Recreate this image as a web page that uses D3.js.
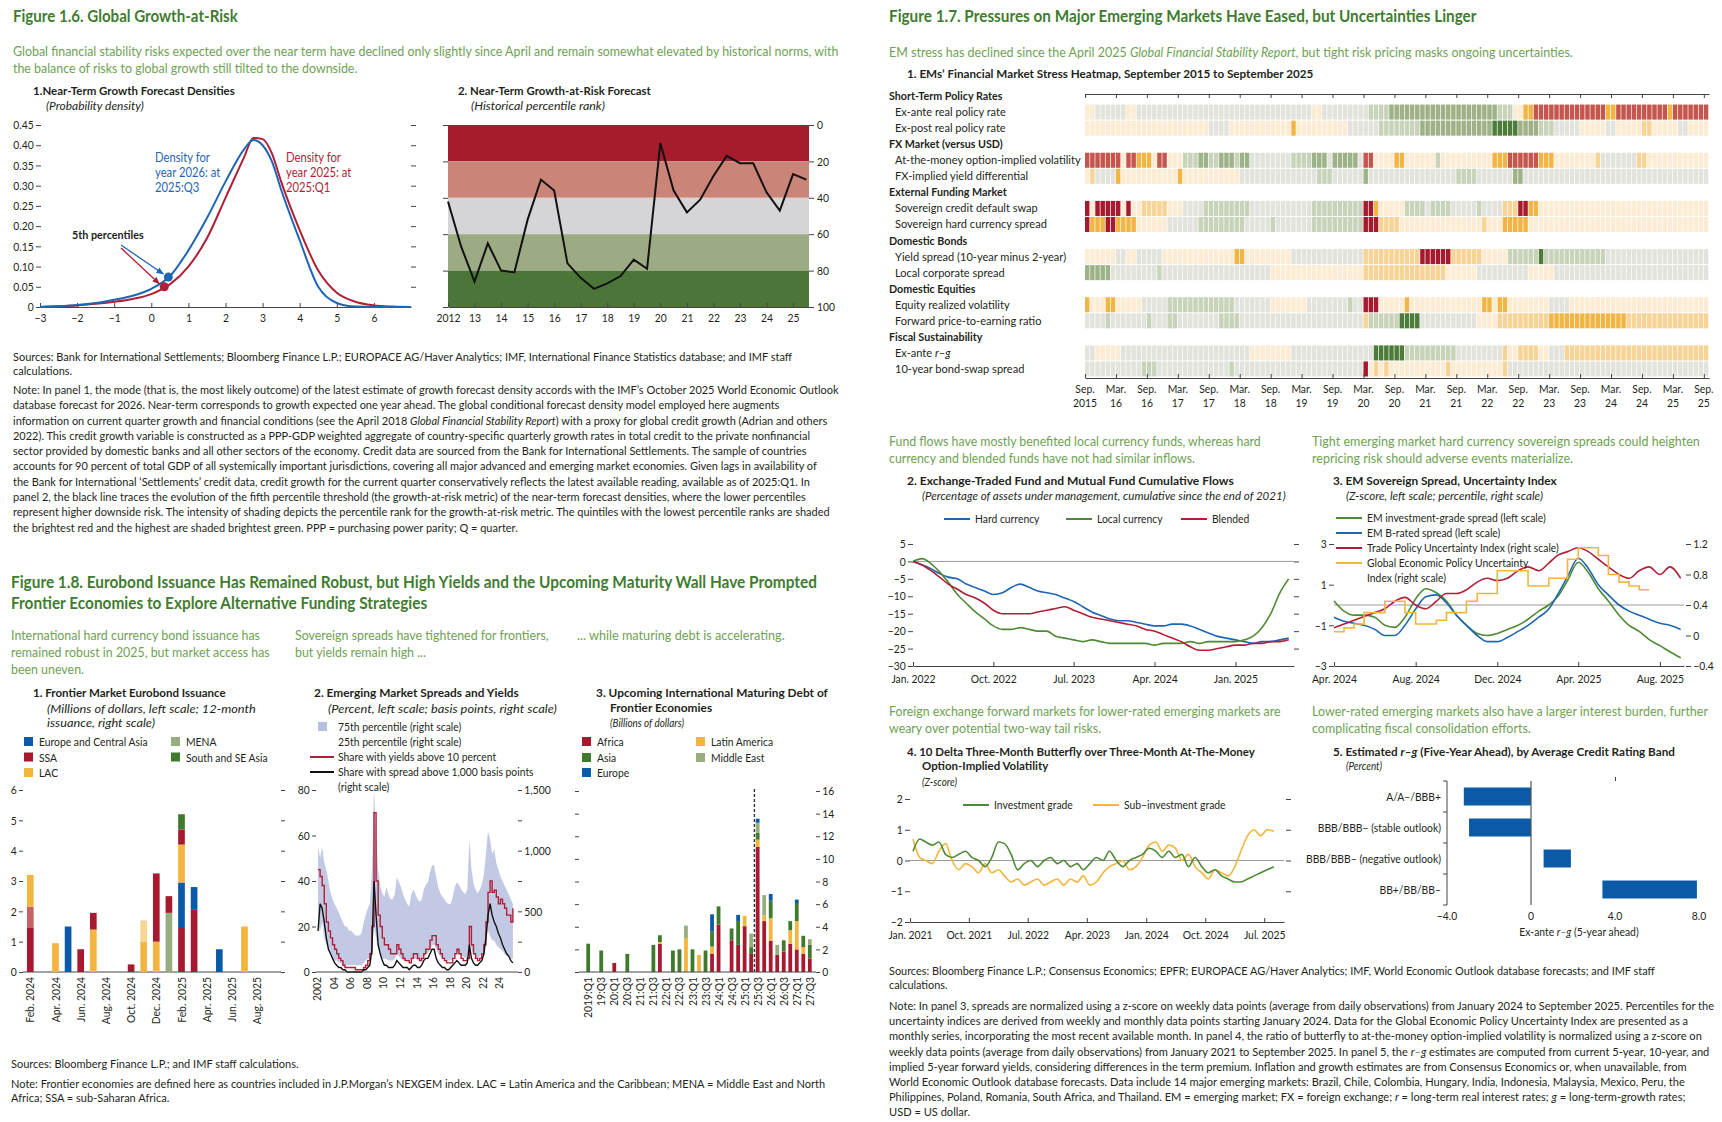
<!DOCTYPE html>
<html>
<head>
<meta charset="utf-8">
<script src="https://cdn.jsdelivr.net/npm/d3@7"></script>
<style>
  body { margin: 0; background: #fff; }
  svg { font-family: Lato, "Noto Sans", sans-serif; display: block; }
</style>
</head>
<body>
<script>
// ---------------- Figure 1.6 data ----------------
const densX    = [-3,-2.5,-2,-1.5,-1,-0.5,0,0.5,1,1.5,2,2.5,2.75,3,3.25,3.5,4,4.5,5,5.5,6,6.5,7];
const dens2026 = [0,0.002,0.005,0.01,0.018,0.028,0.045,0.076,0.14,0.22,0.31,0.39,0.413,0.4,0.36,0.29,0.165,0.05,0.01,0.001,0,0,0];
const dens2025 = [0,0.002,0.004,0.008,0.013,0.02,0.032,0.056,0.1,0.17,0.27,0.37,0.418,0.415,0.38,0.31,0.19,0.09,0.035,0.013,0.004,0.001,0];
const pct5X = [0.46, 0.35];        // 2026, 2025
const pct5Y = [0.074, 0.05];
const densTicks = [0,0.05,0.1,0.15,0.2,0.25,0.3,0.35,0.4,0.45];
const densXTicks = [-3,-2,-1,0,1,2,3,4,5,6];

const garYears = [2012,2012.5,2013,2013.5,2014,2014.5,2015,2015.5,2016,2016.5,2017,2017.5,2018,2018.5,2019,2019.5,2020,2020.5,2021,2021.5,2022,2022.5,2023,2023.5,2024,2024.5,2025,2025.5];
const garRank  = [42,67,86,65,80,81,52,30,36,76,84,90,87,83,74,79,10,36,48,41,28,17,21,21,37,47,27,30];
const garBands = [0,20,40,60,80,100];
const garTicks = [2012,2013,2014,2015,2016,2017,2018,2019,2020,2021,2022,2023,2024,2025];

// ---------------- Figure 1.7 data ----------------
const hmGroups = ["Short-Term Policy Rates","FX Market (versus USD)","External Funding Market","Domestic Bonds","Domestic Equities","Fiscal Sustainability"];
const hmItems = ["Ex-ante real policy rate","Ex-post real policy rate","At-the-money option-implied volatility","FX-implied yield differential",
  "Sovereign credit default swap","Sovereign hard currency spread","Yield spread (10-year minus 2-year)","Local corporate spread",
  "Equity realized volatility","Forward price-to-earning ratio","Ex-ante *r*–*g*","10-year bond-swap spread"];
// stress level runs [level, months], Sep 2015 onward; 0 = most stress (dark red) ... 8 = least (dark green)
const runExAnte = [[4,2],[5,6],[4,2],[5,34],[4,2],[5,9],[6,4],[7,21],[6,3],[4,2],[2,2],[1,14],[2,2],[1,10],[2,1],[1,7]];
const runExPost = [[4,24],[5,4],[4,12],[2,1],[4,10],[5,6],[6,8],[7,14],[8,5],[7,4],[6,3],[5,5],[4,5],[5,2],[4,5],[3,2],[4,5],[5,2],[4,4]];
const runAtmVol = [[1,7],[4,1],[1,2],[2,3],[4,1],[1,2],[4,3],[6,3],[7,2],[6,2],[7,3],[6,1],[7,2],[5,8],[6,4],[7,3],[5,1],[7,5],[5,1],[1,2],[4,4],[2,2],[4,6],[6,1],[4,10],[2,3],[1,6],[2,3],[4,8],[3,1],[5,7],[3,2],[4,12]];
const runFxDiff = [[4,1],[3,1],[5,4],[2,1],[4,11],[2,1],[4,11],[5,10],[5,5],[6,3],[5,6],[7,1],[5,17],[6,4],[5,7],[7,2],[5,36]];
const runCds    = [[0,1],[4,1],[0,5],[4,1],[0,1],[4,2],[3,5],[4,3],[5,4],[6,9],[5,12],[6,10],[0,2],[2,1],[4,5],[6,4],[5,1],[6,4],[5,5],[6,1],[5,4],[3,3],[0,2],[2,2],[4,33]];
const runHardSp = [[0,1],[2,3],[0,2],[2,4],[4,6],[5,6],[6,9],[5,5],[6,1],[5,7],[6,10],[0,3],[3,4],[4,16],[3,1],[4,3],[2,5],[4,35]];
const runYield  = [[4,6],[5,2],[4,2],[5,5],[4,14],[2,2],[4,9],[5,14],[3,11],[0,6],[3,6],[4,5],[6,6],[8,1],[6,12],[5,20]];
const runLocCorp= [[7,5],[5,9],[6,1],[5,21],[4,18],[3,16],[4,6],[5,10],[4,5],[5,30]];
const runEqVol  = [[2,1],[4,3],[2,2],[4,5],[5,5],[6,13],[5,7],[4,7],[5,8],[6,1],[5,2],[0,3],[4,5],[2,1],[4,14],[2,2],[4,1],[2,2],[4,8],[5,4],[4,27]];
const runFwdPE  = [[5,4],[6,1],[5,7],[6,1],[5,3],[6,2],[5,8],[6,4],[5,24],[3,1],[6,6],[8,4],[5,11],[4,4],[3,10],[2,15],[3,16]];
const runRg     = [[5,2],[4,5],[5,25],[4,8],[5,16],[8,6],[6,10],[5,9],[3,1],[4,2],[3,4],[4,2],[5,3],[3,28]];
const runBondSw = [[5,11],[6,3],[5,14],[6,1],[5,25],[0,1],[4,1],[3,1],[4,1],[3,1],[4,11],[3,1],[4,10],[3,1],[5,39]];
const hmColors = ["#a6192e","#c4564d","#f1b545","#f7d496","#fcecd3","#e3e3dd","#c9d3ba","#9db287","#4c7c37"];

const fundHard    = [0,-1,-2,-3.5,-4.5,-5,-6.5,-7.5,-8.5,-9.5,-9,-7.5,-6.5,-7.5,-8.5,-9,-9.5,-10.5,-11.5,-13,-14.5,-15.5,-16.5,-17,-17,-17.5,-18,-18.5,-18.5,-18,-18,-18.5,-19.5,-20.5,-21.5,-22,-22.5,-23,-23.5,-23,-23,-22.5,-22];
const fundLocal   = [0,0.8,-0.5,-3,-6,-9.5,-12,-14.5,-16.5,-18.5,-19.5,-19.5,-19,-19.5,-20,-20,-21.5,-22,-22.5,-23,-22.5,-23,-23.5,-23.5,-23.5,-23.5,-23.5,-24,-23.5,-23.5,-23.5,-23,-23.5,-23,-23,-23,-23,-22.5,-21.5,-19,-15,-9,-5];
const fundBlended = [0,-1,-2.5,-4.5,-6.5,-8,-9.5,-10.5,-12,-14,-15,-15,-15,-15,-14.5,-14,-13.5,-13,-14,-15,-16,-16.5,-17,-17.5,-18,-18.5,-19.5,-20,-21,-22,-23,-24.5,-25.5,-25.5,-25,-24.5,-24,-24,-23.5,-23.5,-23,-23,-22.5];
const fundTicks = [[2022,1],[2022,10],[2023,7],[2024,4],[2025,1]];

// half-monthly from Apr. 2024
const emIG = [0.2,-0.3,-0.5,-0.5,-0.6,-1.0,-1.1,-0.6,0.3,0.8,0.6,0.2,-0.5,-1.0,-1.4,-1.5,-1.4,-1.2,-1.0,-0.7,-0.3,0.0,0.4,1.2,2.1,1.6,0.8,0.2,-0.5,-1.0,-1.3,-1.7,-2.0,-2.3,-2.6];
const emB  = [-0.6,-0.8,-0.9,-1.0,-1.2,-1.5,-1.5,-1.0,-0.2,0.4,0.5,0.1,-0.5,-1.0,-1.5,-1.8,-1.8,-1.6,-1.3,-1.0,-0.6,-0.2,0.5,1.4,2.3,1.8,1.0,0.5,0.0,-0.3,-0.5,-0.7,-0.9,-1.0,-1.2];
const tpu  = [0.1,0.15,0.2,0.25,0.3,0.35,0.45,0.5,0.4,0.35,0.45,0.55,0.55,0.6,0.7,0.75,0.72,0.75,0.85,0.9,0.85,0.95,1.05,1.1,1.15,1.1,1.0,0.9,0.8,0.75,0.85,0.9,0.8,0.9,0.75];
const gepu = [0.05,0.1,0.15,0.3,0.3,0.45,0.45,0.3,0.15,0.15,0.2,0.3,0.3,0.45,0.55,0.55,0.85,0.85,0.85,0.65,0.65,0.75,0.75,1.0,1.15,1.15,1.05,0.8,0.7,0.65,0.6,0.6];
const emLeftTicks = [3,1,-1,-3];
const emRightTicks = [1.2,0.8,0.4,0,-0.4];
const emTicks = [[2024,4],[2024,8],[2024,12],[2025,4],[2025,8]];

// monthly from Jan. 2021
const bflyIG  = [0.3,0.7,0.6,0.5,0.6,0.2,0.1,0.2,0.3,0.1,0.0,-0.2, 0.1,0.6,0.55,0.2,-0.3,-0.1,0.0,-0.2,0.0,0.1,-0.1,0.0,
                 -0.2,-0.1,-0.3,-0.1,0.1,0.0,0.3,0.0,-0.2,0.0,0.1,0.2, 0.4,0.3,0.1,0.3,0.1,0.2,-0.2,0.1,-0.2,-0.4,-0.3,-0.5,
                 -0.6,-0.7,-0.7,-0.6,-0.5,-0.4,-0.3,-0.2];
const bflySub = [0.7,0.1,0.0,-0.1,0.3,0.55,0.0,-0.3,-0.1,-0.2,-0.4,-0.1, -0.4,-0.3,-0.5,-0.7,-0.6,-0.8,-0.7,-0.6,-0.8,-0.7,-0.6,-0.8,
                 -0.6,-0.7,-0.5,-0.8,-0.7,-0.4,-0.2,-0.1,0.0,-0.3,-0.2,0.1, 0.5,0.6,0.3,0.5,0.4,0.0,0.2,-0.2,-0.4,-0.6,-0.3,-0.4,
                 -0.5,-0.2,0.3,0.8,1.0,0.8,1.0,0.95];
const bflyTicks = [[2021,1],[2021,10],[2022,7],[2023,4],[2024,1],[2024,10],[2025,7]];

const rgBands = ["A/A–/BBB+","BBB/BBB– (stable outlook)","BBB/BBB– (negative outlook)","BB+/BB/BB–"];
const rgLow  = [-3.2,-2.95,0.6,3.4];
const rgHigh = [0,0,1.9,7.9];
const rgTicks = [-4,0,4,8];

// ---------------- Figure 1.8 data ----------------
const eboMonths = ["Feb. 2024","Mar. 2024","Apr. 2024","May 2024","Jun. 2024","Jul. 2024","Aug. 2024","Sep. 2024","Oct. 2024","Nov. 2024",
  "Dec. 2024","Jan. 2025","Feb. 2025","Mar. 2025","Apr. 2025","May 2025","Jun. 2025","Jul. 2025","Aug. 2025","Sep. 2025"];
// [month index, region, billions]
const eboIssues = [[0,"SSA",1.45],[0,"SSA*",0.7],[0,"LAC",1.05],[2,"LAC",0.95],[3,"ECA",1.5],[4,"SSA",0.75],[5,"LAC",1.4],[5,"SSA",0.55],
  [8,"SSA",0.25],[9,"LAC",1.0],[9,"LAC*",0.7],[10,"LAC",1.0],[10,"SSA",2.25],[11,"MENA",1.95],[11,"SSA",0.55],
  [12,"SSA",1.45],[12,"ECA",1.5],[12,"LAC",1.25],[12,"SSA",0.5],[12,"SSEA",0.5],[13,"SSA",2.05],[13,"ECA",0.75],[15,"ECA",0.75],[17,"LAC",1.5]];
const eboRegions = ["ECA","SSA","LAC","MENA","SSEA"];
const eboNames = ["Europe and Central Asia","SSA","LAC","MENA","South and SE Asia"];
const eboTicks = [0,1,2,3,4,5,6];

// quarterly 2002:Q1 - 2025:Q3
const spP75 = [1030,940,1030,900, 845,750,655,600, 560,525,490,450, 410,375,375,340, 340,320,300,300, 300,320,410,470,
  525,560,845,1500, 1125,845,710,650, 620,700,640,600, 600,640,780,740, 700,640,600,560, 540,640,680,640, 600,580,600,680,
  720,740,820,880, 880,780,700,650, 620,600,570,560, 560,620,700,740, 720,680,660,640, 680,1090,850,730, 680,650,680,720,
  800,975,1160,1090, 975,1010,900,845, 790,750,710,675, 640,600,560];
const spP25 = [375,340,410,280, 225,190,150,110, 95,95,75,75, 55,55,55,55, 55,55,55,55, 55,55,75,95,
  110,110,190,375, 280,190,150,110, 110,110,95,95, 95,110,150,130, 110,95,95,95, 95,110,110,110, 95,95,110,130,
  150,150,190,225, 225,190,150,130, 110,110,95,95, 95,110,150,170, 150,130,130,110, 130,280,190,150, 130,110,130,150,
  190,260,340,300, 260,260,225,205, 190,170,150,130, 130,110,110];
const shareY10 = [45,42,38,30, 22,18,15,12, 10,8,6,5, 3,2,2,2, 2,2,1,1, 1,1,2,3, 5,8,20,70, 40,25,20,15, 12,12,10,8,
  8,8,12,10, 8,6,5,5, 4,6,8,8, 6,5,6,8, 10,10,14,16, 16,12,10,8, 6,5,4,4, 4,6,8,10, 8,6,5,5, 6,20,12,8, 6,5,6,8,
  12,22,35,40, 35,36,33,30, 32,30,28,25, 25,22,28];
const shareS1000 = [18,30,28,22, 15,10,8,6, 4,3,2,2, 1,1,0,0, 0,0,0,0, 0,0,1,1, 2,3,10,40, 25,12,8,5, 3,3,2,2,
  2,3,5,4, 3,2,2,2, 1,2,3,3, 2,2,3,5, 6,6,8,10, 10,6,4,3, 2,2,1,1, 2,3,4,5, 4,3,3,3, 4,12,6,4, 3,3,4,5,
  8,15,25,30, 25,22,20,17, 15,12,10,8, 7,5,4];
const spYearTicks = [2002,2004,2006,2008,2010,2012,2014,2016,2018,2020,2022,2024];

// quarterly 2019:Q1 - 2027:Q3
const debtQuarters = ["2019:Q1","19:Q2","19:Q3","19:Q4","20:Q1","20:Q2","20:Q3","20:Q4","21:Q1","21:Q2","21:Q3","21:Q4",
  "22:Q1","22:Q2","22:Q3","22:Q4","23:Q1","23:Q2","23:Q3","23:Q4","24:Q1","24:Q2","24:Q3","24:Q4","25:Q1","25:Q2","25:Q3","25:Q4",
  "26:Q1","26:Q2","26:Q3","26:Q4","27:Q1","27:Q2","27:Q3"];
const africaDebt = [0,0,0,0,0.8,0,0,0,0,0,0,2.5,0,0,0,0,0,0,0,1.6,4.2,0,2.8,2.4,4.05,1.6,11.05,4.5,2.75,1.5,1.8,2.5,2.0,1.6,1.2];
const latamDebt  = [0,0,0,0,0,0,0,0,0,0,0,0.15,0,0,0,3.0,0,1.5,0,0.65,0,0,0,0,0.9,0,0.65,0.5,2.0,0,0,1.2,2.5,0.6,0];
const asiaDebt   = [2.5,0,1.9,0,0,0,1.6,0,0,0,2.4,0.6,0,1.9,2.0,0,2.0,0,1.9,1.35,1.6,0,1.05,2.1,0,0.6,0.6,0,1.55,0,1.0,0.8,1.6,1.0,1.2];
const meDebt     = [0,0,0,0,0,0,0,0,0,0,0,0,0,0,0,1.1,0,0,0,0,0,0,0,0,0,1.2,0.9,1.8,0,0.9,0,0,0,0,0.5];
const europeDebt = [0,0,0,0,0,0,0,0,0,0,0,0,0,0,0,0,0,0,0,1.5,0,0,0,0.55,0,0,0.35,0,0.6,0,0,0,0.3,0,0];
const debtCurrent = 26;   // 2025:Q3
const debtTicks = [0,2,4,6,8,10,12,14,16];

// ---------------- text ----------------
const fig16Sub = ["Global financial stability risks expected over the near term have declined only slightly since April and remain somewhat elevated by historical norms, with",
  "the balance of risks to global growth still tilted to the downside."];
const fig16Sources = ["Sources: Bank for International Settlements; Bloomberg Finance L.P.; EUROPACE AG/Haver Analytics; IMF, International Finance Statistics database; and IMF staff",
  "calculations."];
const fig16Note = [
  "Note: In panel 1, the mode (that is, the most likely outcome) of the latest estimate of growth forecast density accords with the IMF’s October 2025 World Economic Outlook",
  "database forecast for 2026. Near-term corresponds to growth expected one year ahead. The global conditional forecast density model employed here augments",
  "information on current quarter growth and financial conditions (see the April 2018 *Global Financial Stability Report*) with a proxy for global credit growth (Adrian and others",
  "2022). This credit growth variable is constructed as a PPP-GDP weighted aggregate of country-specific quarterly growth rates in total credit to the private nonfinancial",
  "sector provided by domestic banks and all other sectors of the economy. Credit data are sourced from the Bank for International Settlements. The sample of countries",
  "accounts for 90 percent of total GDP of all systemically important jurisdictions, covering all major advanced and emerging market economies. Given lags in availability of",
  "the Bank for International ‘Settlements’ credit data, credit growth for the current quarter conservatively reflects the latest available reading, available as of 2025:Q1. In",
  "panel 2, the black line traces the evolution of the fifth percentile threshold (the growth-at-risk metric) of the near-term forecast densities, where the lower percentiles",
  "represent higher downside risk. The intensity of shading depicts the percentile rank for the growth-at-risk metric. The quintiles with the lowest percentile ranks are shaded",
  "the brightest red and the highest are shaded brightest green. PPP = purchasing power parity; Q = quarter."];
const fig17Sources = ["Sources: Bloomberg Finance L.P.; Consensus Economics; EPFR; EUROPACE AG/Haver Analytics; IMF, World Economic Outlook database forecasts; and IMF staff",
  "calculations."];
const fig17Note = [
  "Note: In panel 3, spreads are normalized using a z-score on weekly data points (average from daily observations) from January 2024 to September 2025. Percentiles for the",
  "uncertainty indices are derived from weekly and monthly data points starting January 2024. Data for the Global Economic Policy Uncertainty Index are presented as a",
  "monthly series, incorporating the most recent available month. In panel 4, the ratio of butterfly to at-the-money option-implied volatility is normalized using a z-score on",
  "weekly data points (average from daily observations) from January 2021 to September 2025. In panel 5, the *r–g* estimates are computed from current 5-year, 10-year, and",
  "implied 5-year forward yields, considering differences in the term premium. Inflation and growth estimates are from Consensus Economics or, when unavailable, from",
  "World Economic Outlook database forecasts. Data include 14 major emerging markets: Brazil, Chile, Colombia, Hungary, India, Indonesia, Malaysia, Mexico, Peru, the",
  "Philippines, Poland, Romania, South Africa, and Thailand. EM = emerging market; FX = foreign exchange; *r* = long-term real interest rates; *g* = long-term-growth rates;",
  "USD = US dollar."];
const fig18Note = ["Note: Frontier economies are defined here as countries included in J.P.Morgan’s NEXGEM index. LAC = Latin America and the Caribbean; MENA = Middle East and North",
  "Africa; SSA = sub-Saharan Africa."];

// ---------------- setup ----------------
const W = 1722, H = 1122, SQ = 0.9;
const C = {ink:"#231f20", title:"#3f7c2f", sub:"#6ea153", red:"#b01f35", blue:"#1f66b2", green:"#4e8a34",
           yellow:"#f3b53d", sage:"#9bb07f", dgreen:"#3e7a2c", axis:"#444", zero:"#9a9a9a"};
const MON = ["Jan.","Feb.","Mar.","Apr.","May","Jun.","Jul.","Aug.","Sep.","Oct.","Nov.","Dec."];
const mfmt = d => MON[d.getMonth()] + " " + d.getFullYear();
const ym = ([y, m]) => new Date(y, m - 1, 1);
const intFmt = d3.format("d");

let svg = d3.select("body").append("svg").attr("width", W).attr("height", H);
svg.append("rect").attr("width", W).attr("height", H).attr("fill", "#fff");

function rich(t, s) {
  s.split("*").forEach((part, i) => {
    if (part) t.append("tspan").attr("font-style", i % 2 ? "italic" : null).text(part);
  });
}
function measure(s, size, bold) {
  let t = svg.append("text").attr("font-size", size).attr("font-weight", bold ? 700 : null);
  rich(t, s);
  let w = t.node().getComputedTextLength();
  t.remove();
  return w;
}
function label(x, y, s, o = {}) {
  let t = svg.append("text")
    .attr("font-size", o.size || 11.5)
    .attr("font-weight", o.bold ? 700 : null)
    .attr("font-style", o.italic ? "italic" : null)
    .attr("fill", o.fill || C.ink)
    .attr("text-anchor", o.anchor || null);
  rich(t, s);
  let k = o.sx || SQ;
  if (o.w) k = o.w / t.node().getComputedTextLength();
  t.attr("transform", `translate(${x},${y}) scale(${k},1)`);
  return k;
}
function block(x, y, lines, lh, o = {}) {
  let g = svg.append("g");
  let ts = lines.map((s, i) => {
    let t = g.append("text").attr("y", i * lh).attr("font-size", o.size || 11)
      .attr("font-weight", o.bold ? 700 : null).attr("font-style", o.italic ? "italic" : null)
      .attr("fill", o.fill || C.ink);
    rich(t, s);
    return t;
  });
  let k = o.sx || SQ;
  if (o.w) k = o.w / d3.max(ts, t => t.node().getComputedTextLength());
  g.attr("transform", `translate(${x},${y}) scale(${k},1)`);
  return k;
}
function vlabel(x, y, s) {
  svg.append("text").attr("font-size", 11.5).attr("fill", C.ink).attr("text-anchor", "end").attr("dy", "0.35em")
    .attr("transform", `translate(${x},${y}) rotate(-90) scale(${SQ},1)`).text(s);
}
function ax(g, o = {}) {
  g.attr("font-family", null).attr("font-size", o.size || 11.5);
  g.selectAll(".tick text").attr("fill", C.ink).attr("transform", `scale(${SQ},1)`);
  g.selectAll(".tick line").attr("stroke", C.axis);
  if (o.keepDomain) g.select(".domain").attr("stroke", C.axis);
  else g.select(".domain").remove();
  return g;
}
function hline(x1, x2, y, col, sw) {
  svg.append("line").attr("x1", x1).attr("x2", x2).attr("y1", y).attr("y2", y).attr("stroke", col).attr("stroke-width", sw || 1);
}
function legLine(x, y, col, txt) {
  svg.append("line").attr("x1", x).attr("x2", x + 26).attr("y1", y - 4).attr("y2", y - 4).attr("stroke", col).attr("stroke-width", 2);
  label(x + 31, y, txt);
}
function legBox(x, y, col, txt) {
  svg.append("rect").attr("x", x).attr("y", y - 9).attr("width", 9).attr("height", 9).attr("fill", col);
  label(x + 15, y, txt);
}

// ============== Figure 1.6 ==============
label(13, 22, "Figure 1.6. Global Growth-at-Risk", {size: 16.5, bold: true, fill: C.title, w: 225});
block(13, 56, fig16Sub, 17, {size: 13.5, fill: C.sub, w: 826});
label(33, 95, "1.Near-Term Growth Forecast Densities", {size: 12, bold: true, w: 202});
label(46, 110, "(Probability density)", {size: 11, italic: true, w: 98});
label(458, 95, "2. Near-Term Growth-at-Risk Forecast", {size: 12, bold: true, w: 193});
label(471, 110, "(Historical percentile rank)", {size: 11, italic: true, w: 134});

// panel 1
let x16a = d3.scaleLinear().domain([-3, 7]).range([40, 411]);
let y16a = d3.scaleLinear().domain([0, 0.45]).range([307, 125]);
ax(svg.append("g").attr("transform", "translate(41,0)")
  .call(d3.axisLeft(y16a).tickValues(densTicks).tickSize(5).tickPadding(3).tickFormat(v => v === 0 ? "0" : d3.format(".2f")(v))));
ax(svg.append("g").attr("transform", "translate(411,0)")
  .call(d3.axisRight(y16a).tickValues(densTicks.slice(1)).tickSize(5).tickFormat("")));
ax(svg.append("g").attr("transform", "translate(0,307)")
  .call(d3.axisBottom(x16a).tickValues(densXTicks).tickSizeInner(-4).tickSizeOuter(0).tickPadding(7).tickFormat(intFmt)), {keepDomain: true});

let densLine = d3.line().x((d, i) => x16a(densX[i])).y(d => y16a(d)).curve(d3.curveMonotoneX);
svg.append("path").attr("d", densLine(dens2025)).attr("fill", "none").attr("stroke", C.red).attr("stroke-width", 2);
svg.append("path").attr("d", densLine(dens2026)).attr("fill", "none").attr("stroke", C.blue).attr("stroke-width", 2);

let defs = svg.append("defs");
[["arB", C.blue], ["arR", C.red]].forEach(([id, col]) => {
  defs.append("marker").attr("id", id).attr("viewBox", "0 0 10 10").attr("refX", 9).attr("refY", 5)
    .attr("markerWidth", 6).attr("markerHeight", 6).attr("orient", "auto")
    .append("path").attr("d", "M0,1 L10,5 L0,9 z").attr("fill", col);
});
[[C.blue, "arB"], [C.red, "arR"]].forEach(([col, mk], i) => {
  let px = x16a(pct5X[i]), py = y16a(pct5Y[i]);
  svg.append("line").attr("x1", 121).attr("y1", 245 + i * 3).attr("x2", px - 5).attr("y2", py - 3)
    .attr("stroke", col).attr("stroke-width", 1.3).attr("marker-end", `url(#${mk})`);
});
[C.blue, C.red].forEach((col, i) => {
  svg.append("circle").attr("cx", x16a(pct5X[i])).attr("cy", y16a(pct5Y[i])).attr("r", 4.5).attr("fill", col);
});
label(72, 239, "5th percentiles", {size: 12, bold: true});
block(155, 162, ["Density for", "year 2026: at", "2025:Q3"], 15, {size: 12.5, fill: C.blue});
block(286, 162, ["Density for", "year 2025: at", "2025:Q1"], 15, {size: 12.5, fill: C.red});

// panel 2
let x16b = d3.scaleLinear().domain([2012, 2025.6]).range([448, 809]);
let y16b = d3.scaleLinear().domain([0, 100]).range([125, 307]);
const garColors = ["#a61c2d", "#cb8478", "#d5d5d7", "#9dab84", "#4b7637"];
svg.append("g").selectAll("rect").data(garBands.slice(0, -1)).join("rect")
  .attr("x", x16b(2012)).attr("width", x16b(2025.6) - x16b(2012))
  .attr("y", d => y16b(d)).attr("height", (d, i) => y16b(garBands[i + 1]) - y16b(d))
  .attr("fill", (d, i) => garColors[i]);
svg.append("path").datum(garRank)
  .attr("d", d3.line().x((d, i) => x16b(garYears[i])).y(d => y16b(d)))
  .attr("fill", "none").attr("stroke", "#111").attr("stroke-width", 2);
ax(svg.append("g").attr("transform", "translate(809,0)")
  .call(d3.axisRight(y16b).tickValues(garBands).tickSize(5).tickPadding(4)));
ax(svg.append("g").attr("transform", "translate(448,0)")
  .call(d3.axisLeft(y16b).tickValues(garBands).tickSize(5).tickFormat("")));
ax(svg.append("g").attr("transform", "translate(0,307)")
  .call(d3.axisBottom(x16b).tickValues(garTicks).tickSizeInner(-4).tickSizeOuter(0).tickPadding(7)
    .tickFormat(v => v === 2012 ? "2012" : String(v).slice(2))), {keepDomain: true});

block(13, 361, fig16Sources, 14.5, {size: 11, w: 780});
block(13, 394, fig16Note, 15.3, {size: 11, w: 826});

// ============== Figure 1.7 ==============
label(889, 22, "Figure 1.7. Pressures on Major Emerging Markets Have Eased, but Uncertainties Linger", {size: 16.5, bold: true, fill: C.title, w: 588});
label(889, 57, "EM stress has declined since the April 2025 *Global Financial Stability Report*, but tight risk pricing masks ongoing uncertainties.", {size: 13.5, fill: C.sub, w: 684});
label(907, 78, "1. EMs’ Financial Market Stress Heatmap, September 2015 to September 2025", {size: 12, bold: true, w: 407});

// panel 1 heatmap
let hmX = d3.scaleLinear().domain([0, 121]).range([1085, 1709]);
let hmY = d3.scaleBand().domain(d3.range(18)).range([88, 377]);
const hmSeries = [runExAnte, runExPost, runAtmVol, runFxDiff, runCds, runHardSp, runYield, runLocCorp, runEqVol, runFwdPE, runRg, runBondSw];
hmSeries.forEach((runs, r) => {
  let slot = Math.floor(r / 2) * 3 + 1 + r % 2;
  let cells = [];
  runs.forEach(([lvl, n]) => { for (let i = 0; i < n; i++) cells.push(lvl); });
  svg.append("g").selectAll("rect").data(cells).join("rect")
    .attr("x", (d, i) => hmX(i))
    .attr("width", hmX(1) - hmX(0) - 0.7)
    .attr("y", hmY(slot) + 0.5)
    .attr("height", hmY.bandwidth() - 1)
    .attr("fill", d => hmColors[d]);
});
let hmK = 186 / measure(hmItems[2], 12);
hmGroups.forEach((g, i) => label(889, hmY(i * 3) + hmY.bandwidth() / 2 + 4, g, {size: 12, bold: true, sx: hmK * 0.97}));
hmItems.forEach((s, r) => {
  let slot = Math.floor(r / 2) * 3 + 1 + r % 2;
  label(895, hmY(slot) + hmY.bandwidth() / 2 + 4, s, {size: 12, sx: hmK});
});
const hmTickIdx = d3.range(0, 121, 6);
ax(svg.append("g").attr("transform", "translate(0,94)")
  .call(d3.axisTop(hmX).tickValues(hmTickIdx).tickSizeInner(-4).tickSizeOuter(0).tickFormat("")), {keepDomain: true});
ax(svg.append("g").attr("transform", "translate(0,378)")
  .call(d3.axisBottom(hmX).tickValues(hmTickIdx).tickSizeInner(-4).tickSizeOuter(0).tickFormat("")), {keepDomain: true});
hmTickIdx.forEach((m, i) => {
  let d = new Date(2015, 8 + m, 1);
  label(hmX(m), 393, MON[d.getMonth()], {anchor: "middle"});
  label(hmX(m), 407, i === 0 ? String(d.getFullYear()) : String(d.getFullYear()).slice(2), {anchor: "middle"});
});

// panel 2 fund flows
block(889, 446, ["Fund flows have mostly benefited local currency funds, whereas hard", "currency and blended funds have not had similar inflows."], 17.5, {size: 13.5, fill: C.sub, w: 372});
label(907, 485, "2. Exchange-Traded Fund and Mutual Fund Cumulative Flows", {size: 12, bold: true, w: 327});
label(922, 500, "(Percentage of assets under management, cumulative since the end of 2021)", {size: 11, italic: true, w: 364});
legLine(944, 523, C.blue, "Hard currency");
legLine(1066, 523, C.green, "Local currency");
legLine(1181, 523, C.red, "Blended");
let xF = d3.scaleTime().domain([new Date(2022, 0, 1), new Date(2025, 6, 19)]).range([913, 1294]);
let yF = d3.scaleLinear().domain([-30, 5]).range([666, 544]);
hline(913, 1294, yF(0), C.zero);
ax(svg.append("g").attr("transform", "translate(913,0)")
  .call(d3.axisLeft(yF).tickValues([5,0,-5,-10,-15,-20,-25,-30]).tickSize(5).tickPadding(3).tickFormat(intFmt)));
ax(svg.append("g").attr("transform", "translate(1294,0)")
  .call(d3.axisRight(yF).tickValues([5,0,-5,-10,-15,-20,-25]).tickSize(5).tickFormat("")));
ax(svg.append("g").attr("transform", `translate(0,${yF(-30)})`)
  .call(d3.axisBottom(xF).tickValues(fundTicks.map(ym)).tickSizeInner(-4).tickSizeOuter(0).tickPadding(9).tickFormat(mfmt)), {keepDomain: true});
let fLine = d3.line().x((d, i) => xF(new Date(2022, i, 1))).y(d => yF(d)).curve(d3.curveMonotoneX);
[[fundHard, C.blue], [fundLocal, C.green], [fundBlended, C.red]].forEach(([s, col]) => {
  svg.append("path").attr("d", fLine(s)).attr("fill", "none").attr("stroke", col).attr("stroke-width", 1.6);
});

// panel 3 EM spreads
block(1312, 446, ["Tight emerging market hard currency sovereign spreads could heighten", "repricing risk should adverse events materialize."], 17.5, {size: 13.5, fill: C.sub, w: 388});
label(1333, 485, "3. EM Sovereign Spread, Uncertainty Index", {size: 12, bold: true, w: 224});
label(1346, 500, "(Z-score, left scale; percentile, right scale)", {size: 11, italic: true, w: 197});
let xE = d3.scaleTime().domain([new Date(2024, 3, 1), new Date(2025, 8, 6)]).range([1334, 1684]);
let yEL = d3.scaleLinear().domain([-3, 3]).range([666, 544]);
let yER = d3.scaleLinear().domain([-0.4, 1.2]).range([666, 544]);
hline(1334, 1684, yEL(0), C.zero);
ax(svg.append("g").attr("transform", "translate(1334,0)")
  .call(d3.axisLeft(yEL).tickValues(emLeftTicks).tickSize(5).tickPadding(3).tickFormat(intFmt)));
ax(svg.append("g").attr("transform", "translate(1686,0)")
  .call(d3.axisRight(yER).tickValues(emRightTicks).tickSize(5).tickPadding(3).tickFormat(v => v === 0 ? "0" : d3.format(".1f")(v))));
ax(svg.append("g").attr("transform", `translate(0,${yEL(-3)})`)
  .call(d3.axisBottom(xE).tickValues(emTicks.map(ym)).tickSizeInner(-4).tickSizeOuter(0).tickPadding(9).tickFormat(mfmt)), {keepDomain: true});
let emDate = k => new Date(2024, 3 + Math.floor(k / 2), k % 2 ? 16 : 1);
[[emIG, yEL, C.green, d3.curveMonotoneX], [emB, yEL, C.blue, d3.curveMonotoneX],
 [tpu, yER, C.red, d3.curveMonotoneX], [gepu, yER, C.yellow, d3.curveStepAfter]].forEach(([s, ys, col, cv]) => {
  svg.append("path").attr("d", d3.line().x((d, k) => xE(emDate(k))).y(d => ys(d)).curve(cv)(s))
    .attr("fill", "none").attr("stroke", col).attr("stroke-width", 1.6);
});
legLine(1336, 522, C.green, "EM investment-grade spread (left scale)");
legLine(1336, 537, C.blue, "EM B-rated spread (left scale)");
legLine(1336, 552, C.red, "Trade Policy Uncertainty Index (right scale)");
legLine(1336, 567, C.yellow, "Global Economic Policy Uncertainty");
label(1367, 582, "Index (right scale)");

// panel 4 butterfly
block(889, 716, ["Foreign exchange forward markets for lower-rated emerging markets are", "weary over potential two-way tail risks."], 17.5, {size: 13.5, fill: C.sub, w: 392});
let k4 = label(907, 756, "4. 10 Delta Three-Month Butterfly over Three-Month At-The-Money", {size: 12, bold: true, w: 348});
label(922, 770, "Option-Implied Volatility", {size: 12, bold: true, sx: k4});
label(922, 786, "(Z-score)", {size: 11, italic: true});
legLine(963, 809, C.green, "Investment grade");
legLine(1093, 809, C.yellow, "Sub–investment grade");
let xB = d3.scaleTime().domain([new Date(2021, 0, 1), new Date(2025, 9, 1)]).range([910, 1284]);
let yB = d3.scaleLinear().domain([-2, 2]).range([922, 799]);
hline(910, 1284, yB(0), C.zero);
ax(svg.append("g").attr("transform", "translate(910,0)")
  .call(d3.axisLeft(yB).tickValues([2,1,0,-1,-2]).tickSize(5).tickPadding(3).tickFormat(intFmt)));
ax(svg.append("g").attr("transform", "translate(1286,0)")
  .call(d3.axisRight(yB).tickValues([2,1,0,-1]).tickSize(5).tickFormat("")));
ax(svg.append("g").attr("transform", `translate(0,${yB(-2)})`)
  .call(d3.axisBottom(xB).tickValues(bflyTicks.map(ym)).tickSizeInner(-4).tickSizeOuter(0).tickPadding(9).tickFormat(mfmt)), {keepDomain: true});
let bLine = d3.line().x((d, i) => xB(new Date(2021, i, 15))).y(d => yB(d)).curve(d3.curveMonotoneX);
svg.append("path").attr("d", bLine(bflySub)).attr("fill", "none").attr("stroke", C.yellow).attr("stroke-width", 1.6);
svg.append("path").attr("d", bLine(bflyIG)).attr("fill", "none").attr("stroke", C.green).attr("stroke-width", 1.6);

// panel 5 r-g
block(1312, 716, ["Lower-rated emerging markets also have a larger interest burden, further", "complicating fiscal consolidation efforts."], 17.5, {size: 13.5, fill: C.sub, w: 396});
label(1333, 756, "5. Estimated *r–g* (Five-Year Ahead), by Average Credit Rating Band", {size: 12, bold: true, w: 342});
label(1346, 770, "(Percent)", {size: 11, italic: true});
let xR = d3.scaleLinear().domain([-4, 8]).range([1447, 1699]);
let yR = d3.scaleBand().domain(rgBands).range([781, 905]).paddingInner(0.42).paddingOuter(0.21);
svg.append("g").selectAll("rect").data(rgBands).join("rect")
  .attr("x", (d, i) => xR(rgLow[i])).attr("width", (d, i) => xR(rgHigh[i]) - xR(rgLow[i]))
  .attr("y", d => yR(d)).attr("height", yR.bandwidth()).attr("fill", "#0b5aa8");
svg.append("line").attr("x1", xR(0)).attr("x2", xR(0)).attr("y1", 781).attr("y2", 905).attr("stroke", "#555").attr("stroke-width", 1.2);
svg.append("line").attr("x1", 1447).attr("x2", 1447).attr("y1", 781).attr("y2", 905).attr("stroke", C.axis);
svg.append("g").selectAll("line").data(d3.range(rgBands.length + 1)).join("line")
  .attr("x1", 1443).attr("x2", 1447).attr("y1", i => 781 + i * yR.step()).attr("y2", i => 781 + i * yR.step()).attr("stroke", C.axis);
ax(svg.append("g").attr("transform", "translate(0,781)")
  .call(d3.axisTop(xR).tickValues([4]).tickSize(4).tickFormat("")));
rgBands.forEach(b => label(1441, yR(b) + yR.bandwidth() / 2 + 4, b, {anchor: "end"}));
rgTicks.forEach(v => label(xR(v), 920, v === 0 ? "0" : d3.format(".1f")(v), {anchor: "middle"}));
label(1579, 936, "Ex-ante *r–g* (5-year ahead)", {anchor: "middle"});

block(889, 975, fig17Sources, 14.5, {size: 11, w: 767});
block(889, 1010, fig17Note, 15.2, {size: 11, w: 826});

// ============== Figure 1.8 ==============
block(11, 588, ["Figure 1.8. Eurobond Issuance Has Remained Robust, but High Yields and the Upcoming Maturity Wall Have Prompted",
  "Frontier Economies to Explore Alternative Funding Strategies"], 21, {size: 16.5, bold: true, fill: C.title, w: 807});
block(11, 640, ["International hard currency bond issuance has", "remained robust in 2025, but market access has", "been uneven."], 17, {size: 13.5, fill: C.sub, w: 259});
block(295, 640, ["Sovereign spreads have tightened for frontiers,", "but yields remain high ..."], 17, {size: 13.5, fill: C.sub, w: 254});
label(577, 640, "... while maturing debt is accelerating.", {size: 13.5, fill: C.sub, w: 208});

// panel 1 eurobond issuance
label(33, 697, "1. Frontier Market Eurobond Issuance", {size: 12, bold: true, w: 193});
block(47, 713, ["(Millions of dollars, left scale; 12-month", "issuance, right scale)"], 14, {size: 11, italic: true, w: 209});
const eboColors = {ECA: "#0b5aa8", SSA: "#a6192e", "SSA*": "#c46467", LAC: "#f2b53f", "LAC*": "#f8d594", MENA: "#98ad7e", SSEA: "#3f7a2c"};
eboRegions.forEach((r, i) => legBox(i < 3 ? 24 : 171, 746 + (i % 3) * 15.5, eboColors[r], eboNames[i]));
let xEb = d3.scaleBand().domain(d3.range(eboMonths.length)).range([24, 276]).paddingInner(0.47).paddingOuter(0.235);
let yEb = d3.scaleLinear().domain([0, 6]).range([972, 790]);
ax(svg.append("g").attr("transform", "translate(23,0)")
  .call(d3.axisLeft(yEb).tickValues(eboTicks).tickSize(4).tickPadding(3).tickFormat(intFmt)));
ax(svg.append("g").attr("transform", "translate(281,0)")
  .call(d3.axisRight(yEb).tickValues(eboTicks).tickSize(4).tickFormat("")));
hline(23, 281, yEb(0), C.axis);
let eboAcc = eboMonths.map(() => 0);
svg.append("g").selectAll("rect").data(eboIssues).join("rect")
  .each(function ([m, r, v]) {
    d3.select(this).attr("x", xEb(m)).attr("width", xEb.bandwidth())
      .attr("y", yEb(eboAcc[m] + v)).attr("height", yEb(eboAcc[m]) - yEb(eboAcc[m] + v))
      .attr("fill", eboColors[r]);
    eboAcc[m] += v;
  });
eboMonths.forEach((s, i) => { if (i % 2 === 0) vlabel(xEb(i) + xEb.bandwidth() / 2, 977, s); });

// panel 2 spreads and yields
label(314, 697, "2. Emerging Market Spreads and Yields", {size: 12, bold: true, w: 205});
label(328, 713, "(Percent, left scale; basis points, right scale)", {size: 11, italic: true, w: 229});
svg.append("rect").attr("x", 318).attr("y", 722).attr("width", 9).attr("height", 9).attr("fill", "#b7c0e0");
label(338, 731, "75th percentile (right scale)");
label(338, 746, "25th percentile (right scale)");
svg.append("line").attr("x1", 310).attr("x2", 334).attr("y1", 757).attr("y2", 757).attr("stroke", C.red).attr("stroke-width", 2);
label(338, 761, "Share with yields above 10 percent");
svg.append("line").attr("x1", 310).attr("x2", 334).attr("y1", 772).attr("y2", 772).attr("stroke", "#111").attr("stroke-width", 2);
label(338, 776, "Share with spread above 1,000 basis points");
label(338, 791, "(right scale)");
let xS = d3.scaleLinear().domain([2002, 2026]).range([317, 516]);
let ySL = d3.scaleLinear().domain([0, 80]).range([972, 790]);
let ySR = d3.scaleLinear().domain([0, 1500]).range([972, 790]);
let qYear = i => 2002 + i / 4 + 0.125;
svg.append("path").datum(spP75)
  .attr("d", d3.area().x((d, i) => xS(qYear(i))).y0((d, i) => ySR(spP25[i])).y1(d => ySR(d)))
  .attr("fill", "#b7c0e0").attr("opacity", 0.85);
svg.append("path").attr("d", d3.line().x((d, i) => xS(qYear(i))).y(d => ySL(d)).curve(d3.curveStepAfter)(shareY10))
  .attr("fill", "none").attr("stroke", C.red).attr("stroke-width", 1.4);
svg.append("path").attr("d", d3.line().x((d, i) => xS(qYear(i))).y(d => ySL(d))(shareS1000))
  .attr("fill", "none").attr("stroke", "#111").attr("stroke-width", 1.4);
ax(svg.append("g").attr("transform", "translate(316,0)")
  .call(d3.axisLeft(ySL).tickValues([0,20,40,60,80]).tickSize(4).tickPadding(3).tickFormat(intFmt)));
ax(svg.append("g").attr("transform", "translate(518,0)")
  .call(d3.axisRight(ySR).tickValues([0,250,500,750,1000,1250,1500]).tickSize(4).tickPadding(3)
    .tickFormat(v => v % 500 ? "" : d3.format(",")(v))));
hline(316, 518, ySL(0), C.axis);
spYearTicks.forEach(y => vlabel(xS(y), 977, y === 2002 ? "2002" : String(y).slice(2)));

// panel 3 maturing debt
let k83 = label(596, 697, "3. Upcoming International Maturing Debt of", {size: 12, bold: true, w: 232});
label(610, 712, "Frontier Economies", {size: 12, bold: true, sx: k83});
label(610, 727, "(Billions of dollars)", {size: 11, italic: true});
const debtKeys = ["africa", "latam", "asia", "me", "europe"];
const debtColors = {africa: "#a6192e", latam: "#f2b53f", asia: "#3f7a2c", me: "#98ad7e", europe: "#0b5aa8"};
legBox(582, 746, debtColors.africa, "Africa");
legBox(582, 762, debtColors.asia, "Asia");
legBox(582, 777, debtColors.europe, "Europe");
legBox(696, 746, debtColors.latam, "Latin America");
legBox(696, 762, debtColors.me, "Middle East");
let debtRows = debtQuarters.map((q, i) => ({q: i, africa: africaDebt[i], latam: latamDebt[i], asia: asiaDebt[i], me: meDebt[i], europe: europeDebt[i]}));
let xD = d3.scaleBand().domain(d3.range(debtQuarters.length)).range([585, 813]).paddingInner(0.42).paddingOuter(0.2);
let yD = d3.scaleLinear().domain([0, 16]).range([972, 791]);
svg.append("g").selectAll("g").data(d3.stack().keys(debtKeys)(debtRows)).join("g")
  .attr("fill", s => debtColors[s.key])
  .selectAll("rect").data(s => s).join("rect")
  .attr("x", d => xD(d.data.q)).attr("width", xD.bandwidth())
  .attr("y", d => yD(d[1])).attr("height", d => yD(d[0]) - yD(d[1]));
let xCur = xD(debtCurrent) - xD.step() * xD.paddingInner() / 2;
svg.append("line").attr("x1", xCur).attr("x2", xCur).attr("y1", yD(0)).attr("y2", yD(16.2))
  .attr("stroke", "#333").attr("stroke-width", 1.4).attr("stroke-dasharray", "3,2");
ax(svg.append("g").attr("transform", "translate(579,0)")
  .call(d3.axisLeft(yD).tickValues(debtTicks).tickSize(4).tickFormat("")));
ax(svg.append("g").attr("transform", "translate(816,0)")
  .call(d3.axisRight(yD).tickValues(debtTicks).tickSize(4).tickPadding(3).tickFormat(intFmt)));
hline(579, 816, yD(0), C.axis);
debtQuarters.forEach((q, i) => { if (i % 2 === 0) vlabel(xD(i) + xD.bandwidth() / 2, 977, q); });

label(11, 1068, "Sources: Bloomberg Finance L.P.; and IMF staff calculations.", {size: 11, w: 288});
block(11, 1088, fig18Note, 14.5, {size: 11, w: 815});
</script>
</body>
</html>
